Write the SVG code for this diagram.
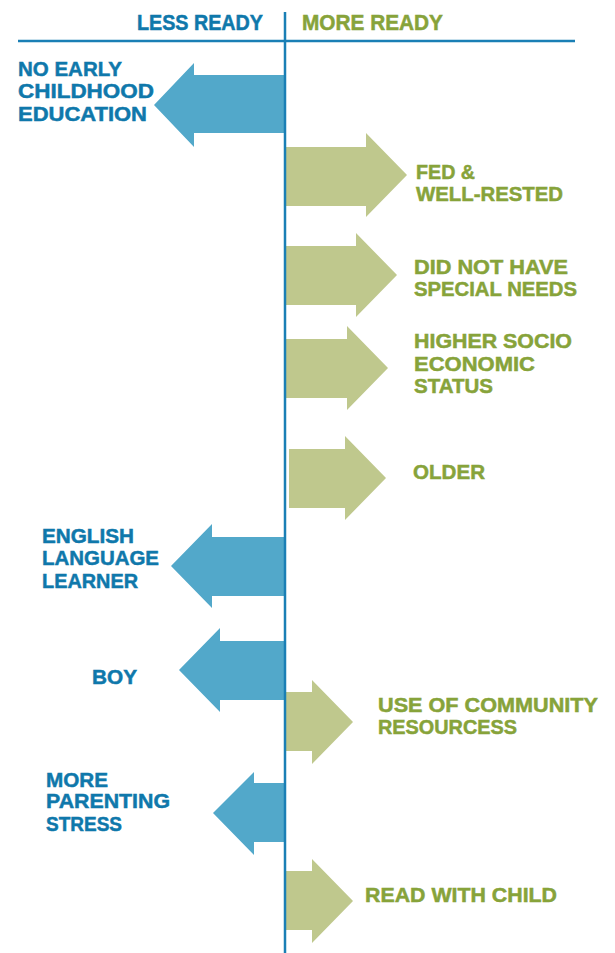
<svg xmlns="http://www.w3.org/2000/svg" width="615" height="953" viewBox="0 0 615 953">
<style>
text{font-family:"Liberation Sans",Arial,sans-serif;font-weight:bold;font-size:21px;stroke-width:0.5px}
.hd{font-size:22px}
.b{fill:#0f78ab;stroke:#0f78ab}
.g{fill:#87a33a;stroke:#87a33a}
.ab{fill:#52a8ca}
.ag{fill:#bfc88d}
.ax{stroke:#1a7fb5;stroke-width:2.5;fill:none}
</style>
<rect width="615" height="953" fill="#fff"/>
<g id="header">
<text class="b hd" x="137" y="30" textLength="126" lengthAdjust="spacingAndGlyphs">LESS READY</text>
<text class="g hd" x="302" y="30" textLength="141" lengthAdjust="spacingAndGlyphs">MORE READY</text>
</g>
<g id="n1">
<polygon class="ab" points="285,75 194,75 194,63 154,105 194,147 194,133 285,133"/>
<text class="b" x="18" y="76" textLength="104" lengthAdjust="spacingAndGlyphs">NO EARLY</text>
<text class="b" x="18" y="98" textLength="136" lengthAdjust="spacingAndGlyphs">CHILDHOOD</text>
<text class="b" x="18" y="121" textLength="129" lengthAdjust="spacingAndGlyphs">EDUCATION</text>
</g>
<g id="n2">
<polygon class="ag" points="285,147 366,147 366,133 407,175 366,217 366,206 285,206"/>
<text class="g" x="416" y="179" textLength="59" lengthAdjust="spacingAndGlyphs">FED &amp;</text>
<text class="g" x="416" y="201" textLength="147" lengthAdjust="spacingAndGlyphs">WELL-RESTED</text>
</g>
<g id="n3">
<polygon class="ag" points="285,246 356,246 356,233 397,275 356,317 356,305 285,305"/>
<text class="g" x="414" y="274" textLength="154" lengthAdjust="spacingAndGlyphs">DID NOT HAVE</text>
<text class="g" x="414" y="296" textLength="163" lengthAdjust="spacingAndGlyphs">SPECIAL NEEDS</text>
</g>
<g id="n4">
<polygon class="ag" points="285,339 347,339 347,326 388,368 347,410 347,398 285,398"/>
<text class="g" x="414" y="348" textLength="158" lengthAdjust="spacingAndGlyphs">HIGHER SOCIO</text>
<text class="g" x="414" y="371" textLength="121" lengthAdjust="spacingAndGlyphs">ECONOMIC</text>
<text class="g" x="414" y="393" textLength="79" lengthAdjust="spacingAndGlyphs">STATUS</text>
</g>
<g id="n5">
<polygon class="ag" points="289,449 345,449 345,436 386,478 345,520 345,508 289,508"/>
<text class="g" x="413" y="479" textLength="72" lengthAdjust="spacingAndGlyphs">OLDER</text>
</g>
<g id="n6">
<polygon class="ab" points="285,537 212,537 212,524 171,566 212,608 212,596 285,596"/>
<text class="b" x="42" y="543" textLength="92" lengthAdjust="spacingAndGlyphs">ENGLISH</text>
<text class="b" x="42" y="565" textLength="117" lengthAdjust="spacingAndGlyphs">LANGUAGE</text>
<text class="b" x="42" y="588" textLength="96" lengthAdjust="spacingAndGlyphs">LEARNER</text>
</g>
<g id="n7">
<polygon class="ab" points="285,641 220,641 220,628 179,670 220,712 220,700 285,700"/>
<text class="b" x="92" y="684" textLength="45" lengthAdjust="spacingAndGlyphs">BOY</text>
</g>
<g id="n8">
<polygon class="ag" points="285,692 312,692 312,680 353,722 312,764 312,751 285,751"/>
<text class="g" x="378" y="712" textLength="220" lengthAdjust="spacingAndGlyphs">USE OF COMMUNITY</text>
<text class="g" x="378" y="734" textLength="139" lengthAdjust="spacingAndGlyphs">RESOURCESS</text>
</g>
<g id="n9">
<polygon class="ab" points="285,783 254,783 254,772 213,813 254,855 254,842 285,842"/>
<text class="b" x="46" y="787" textLength="62" lengthAdjust="spacingAndGlyphs">MORE</text>
<text class="b" x="46" y="808" textLength="124" lengthAdjust="spacingAndGlyphs">PARENTING</text>
<text class="b" x="46" y="831" textLength="76" lengthAdjust="spacingAndGlyphs">STRESS</text>
</g>
<g id="n10">
<polygon class="ag" points="285,871 312,871 312,859 353,901 312,943 312,930 285,930"/>
<text class="g" x="365" y="902" textLength="192" lengthAdjust="spacingAndGlyphs">READ WITH CHILD</text>
</g>
<g id="connectors">
<line class="ax" x1="18" y1="41" x2="575" y2="41"/>
<line class="ax" x1="285" y1="12" x2="285" y2="953"/>
</g>
</svg>
